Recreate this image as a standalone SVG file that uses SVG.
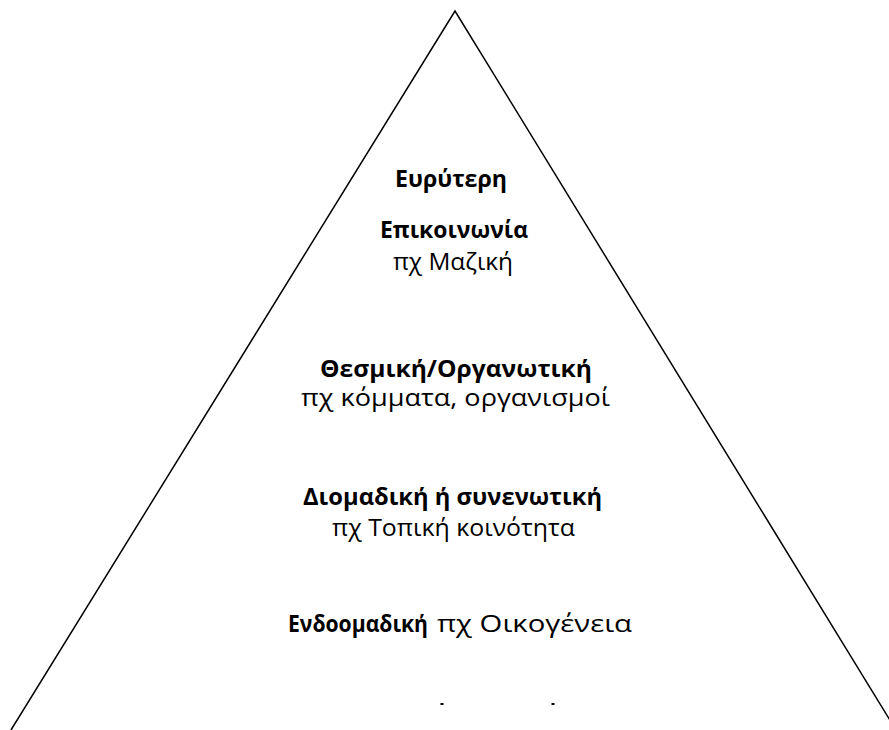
<svg xmlns="http://www.w3.org/2000/svg" width="889" height="730" viewBox="0 0 889 730">
<style>
.t{font-family:"Open Sans","Liberation Sans",sans-serif;font-size:23px;fill:#000;text-anchor:middle}
.b{font-weight:bold}
.s{font-family:"Open Sans","Liberation Sans",sans-serif;font-size:23px;fill:#000}
</style>
<rect width="889" height="730" fill="#fff"/>
<g id="pyramid">
<polyline points="11,730 455,11 896,730" fill="none" stroke="#000" stroke-width="1.5"/>
</g>
<g id="level-mass">
<text class="t b" x="451" y="187" textLength="112" lengthAdjust="spacingAndGlyphs">Ευρύτερη</text>
<text class="t b" x="454" y="238" textLength="148" lengthAdjust="spacingAndGlyphs">Επικοινωνία</text>
<text class="t" x="453" y="270" textLength="120" lengthAdjust="spacingAndGlyphs">πχ Μαζική</text>
</g>
<g id="level-institutional">
<text class="t b" x="456" y="377" textLength="272" lengthAdjust="spacingAndGlyphs">Θεσμική/Οργανωτική</text>
<text class="t" x="455.5" y="406" textLength="309" lengthAdjust="spacingAndGlyphs">πχ κόμματα, οργανισμοί</text>
</g>
<g id="level-intergroup">
<text class="t b" x="452.5" y="505" textLength="299" lengthAdjust="spacingAndGlyphs">Διομαδική ή συνενωτική</text>
<text class="t" x="453.5" y="536" textLength="243" lengthAdjust="spacingAndGlyphs">πχ Τοπική κοινότητα</text>
</g>
<g id="level-intragroup">
<text class="s b" x="288" y="632" textLength="140" lengthAdjust="spacingAndGlyphs">Ενδοομαδική</text>
<text class="s" x="437" y="632" textLength="195" lengthAdjust="spacingAndGlyphs">πχ Οικογένεια</text>
</g>
<g id="level-bottom-fragments">
<rect x="440.5" y="703" width="3" height="2" fill="#000"/>
<rect x="551.5" y="703" width="3" height="2" fill="#000"/>
</g>
</svg>
